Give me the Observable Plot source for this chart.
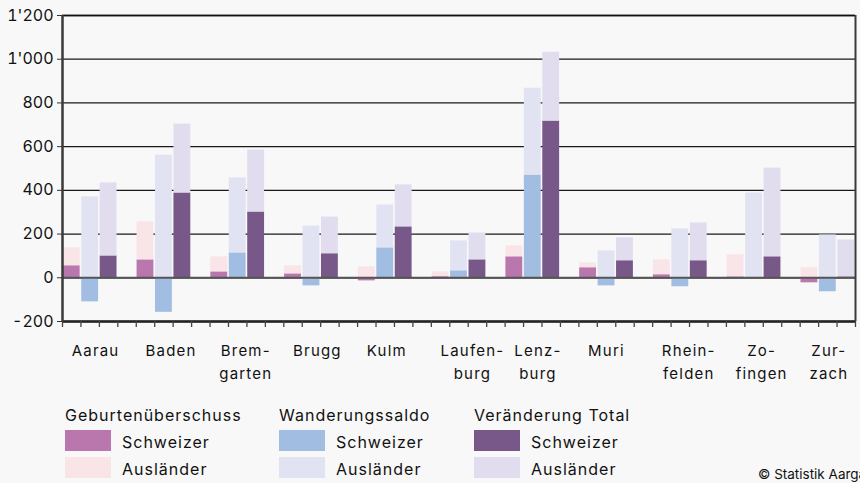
<!DOCTYPE html>
<html><head><meta charset="utf-8">
<script src="https://cdn.jsdelivr.net/npm/d3@7"></script>
<script src="https://cdn.jsdelivr.net/npm/@observablehq/plot@0.6"></script>
<style>
body{margin:0;background:#f8f8f8;font-family:Inter,"Liberation Sans",sans-serif;color:#111;}
#wrap{position:relative;width:860px;height:483px;overflow:hidden;background:#f8f8f8;}
#legend{position:relative;width:860px;height:98px;}
.lg{position:absolute;white-space:nowrap;font-size:16px;line-height:16px;letter-spacing:1px;}
.sw{position:absolute;width:46px;height:21px;}
#chart g[aria-label="text"] text{letter-spacing:1.2px;}
</style></head><body><div id="wrap"><div id="chart"></div><div id="legend"></div></div>
<script>
const districts = ["Aarau","Baden","Bremgarten","Brugg","Kulm","Laufenburg","Lenzburg","Muri","Rheinfelden","Zofingen","Zurzach"];
const districtLabels = ["Aarau","Baden","Brem-\ngarten","Brugg","Kulm","Laufen-\nburg","Lenz-\nburg","Muri","Rhein-\nfelden","Zo-\nfingen","Zur-\nzach"];
const geburtSchweizer  = [55, 82, 27, 18, -14, 5, 96, 46, 14, 4, -23];
const geburtAuslaender = [82, 174, 69, 37, 50, 22, 50, 22, 68, 101, 46];
const wanderSchweizer  = [-110, -158, 114, -37, 137, 32, 470, -37, -41, 3, -64];
const wanderAuslaender = [370, 561, 343, 237, 196, 137, 397, 123, 224, 385, 196];
const totalSchweizer   = [100, 388, 301, 110, 233, 82, 717, 78, 78, 96, 4];
const totalAuslaender  = [334, 315, 283, 168, 192, 123, 315, 105, 173, 406, 169];
const groups = ["Geburtenüberschuss","Wanderungssaldo","Veränderung Total"];
const nationalities = ["Schweizer","Ausländer"];
const yTicks = [-200, 0, 200, 400, 600, 800, 1000, 1200];
const colorKeys = ["G-Schweizer","G-Ausländer","W-Schweizer","W-Ausländer","T-Schweizer","T-Ausländer"];
const colorRange = ["#b977ad","#f9e4e7","#a2bde2","#e1e3f2","#785789","#e1ddee"];

const series = [[geburtSchweizer, geburtAuslaender],[wanderSchweizer, wanderAuslaender],[totalSchweizer, totalAuslaender]];
const rows = [];
districts.forEach((d, i) => {
  series.forEach((pair, k) => {
    pair.forEach((arr, n) => {
      rows.push({district: d, slot: i*4 + k, value: arr[i], key: "GWT"[k] + "-" + nationalities[n]});
    });
  });
});
const nSlots = districts.length*4 - 1;

const fmt = d3.formatLocale({decimal:".", thousands:"'", grouping:[3], currency:["",""], minus:"-"}).format(",");
const font = "Inter, 'Liberation Sans', sans-serif";

const chart = Plot.plot({
  width: 860, height: 385,
  marginTop: 15, marginBottom: 64, marginLeft: 62, marginRight: 5,
  style: {background: "transparent", fontFamily: font, overflow: "visible", color: "#111"},
  x: {type: "linear", domain: [0, nSlots], axis: null},
  y: {domain: [-200, 1200], axis: null},
  color: {domain: colorKeys, range: colorRange},
  marks: [
    Plot.ruleY(yTicks, {stroke: "#1a1a1a", strokeWidth: 1.3}),
    Plot.rectY(rows, {x1: "slot", x2: d => d.slot + 1, y: "value", fill: "key", insetLeft: 0.8, insetRight: 0.8}),
    Plot.ruleY([0], {stroke: "#555", strokeWidth: 2}),
    Plot.ruleY([1200], {stroke: "#111", strokeWidth: 1.5}),
    Plot.ruleY([-200], {stroke: "#222", strokeWidth: 2.5}),
    Plot.ruleX([0], {stroke: "#3a3a3a", strokeWidth: 2.5}),
    Plot.ruleX([nSlots], {stroke: "#3a3a3a", strokeWidth: 2}),
    Plot.axisX({ticks: d3.range(0, nSlots + 1), tickSize: 6, tickFormat: () => "", label: null, stroke: "#444", strokeWidth: 1.3}),
    Plot.axisY({ticks: yTicks, tickSize: 5, tickPadding: 4, tickFormat: fmt, label: null, fontSize: 16, stroke: "#333", fill: "#111"}),
    Plot.text(districtLabels, {x: (d, i) => i*4 + 0.5, y: () => -200, dy: 19, lineAnchor: "top", textAnchor: "start", fontSize: 15, lineHeight: 1.5, fill: "#111"})
  ]
});
document.getElementById("chart").appendChild(chart);

// center the lines of each multi-line category label relative to each other
chart.querySelectorAll('g[aria-label="text"] text').forEach(t => {
  const spans = Array.from(t.querySelectorAll("tspan"));
  if (spans.length < 2) return;
  const w = spans.map(s => s.getComputedTextLength());
  const maxW = Math.max(...w);
  spans.forEach((s, j) => s.setAttribute("x", (maxW - w[j]) / 2));
});

const legend = document.getElementById("legend");
const colX = [65, 279, 474];
groups.forEach((g, k) => {
  const t = document.createElement("div");
  t.className = "lg"; t.textContent = g;
  t.style.left = colX[k] + "px"; t.style.top = "22px";
  legend.appendChild(t);
  nationalities.forEach((n, j) => {
    const s = document.createElement("div");
    s.className = "sw";
    s.style.left = colX[k] + "px"; s.style.top = (45 + j*27) + "px";
    s.style.background = colorRange[k*2 + j];
    legend.appendChild(s);
    const l = document.createElement("div");
    l.className = "lg"; l.textContent = n;
    l.style.left = (colX[k] + 57) + "px"; l.style.top = (49 + j*27) + "px";
    legend.appendChild(l);
  });
});
const c = document.createElement("div");
c.className = "lg"; c.textContent = "© Statistik Aargau";
c.style.left = "758px"; c.style.top = "81px"; c.style.fontSize = "13.5px"; c.style.letterSpacing = "0px";
legend.appendChild(c);
</script>
</body></html>
